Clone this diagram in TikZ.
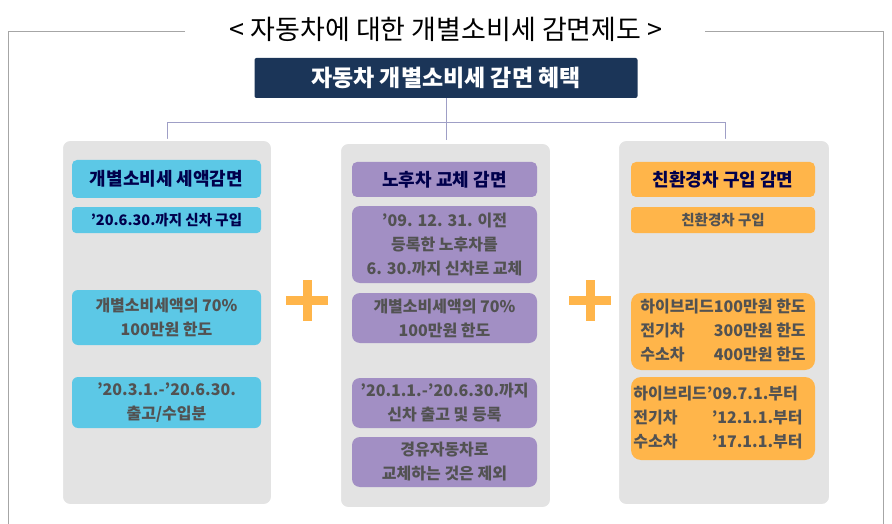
\documentclass[tikz,border=0pt]{standalone}
\usepackage{fontspec}
\setmainfont{Noto Sans CJK KR}[BoldFont={Noto Sans CJK KR Black}]
\begin{document}
\begin{tikzpicture}[x=1pt,y=-1pt,
 panel/.style={draw=white,line width=2pt,fill=gray!22,rounded corners=8pt},
 hd/.style={font=\bfseries\fontsize{18}{20}\selectfont,text=blue!30!black},
 bx/.style={font=\bfseries\fontsize{16}{24}\selectfont,text=black!68,align=center},
 cn/.style={draw=blue!25!gray!60,line width=0.8pt}]
\useasboundingbox (0,0) rectangle (892,524);
\definecolor{cy}{HTML}{5CC8E6}\definecolor{pu}{HTML}{A28FC4}\definecolor{or}{HTML}{FFB54A}
\draw[gray!70,line width=0.6pt] (185,31) -- (8,31) -- (8,524);
\draw[gray!70,line width=0.6pt] (705,31) -- (883,31) -- (883,524);
\node (title) at (446,29) {\fontsize{27}{29}\selectfont < 자동차에 대한 개별소비세 감면제도 >};
\node[fill={rgb,255:red,27;green,53;blue,88},text=white,rounded corners=2pt,minimum width=383pt,minimum height=40pt,font=\bfseries\fontsize{23}{25}\selectfont] (top) at (446,78) {자동차 개별소비세 감면 혜택};
\coordinate (j) at (446,122);
\coordinate (l) at (167,140);\coordinate (m) at (446,140);\coordinate (r) at (725,140);
\draw[cn] (top.south) -- (j);
\draw[cn] (l) -- (167,122) -- (725,122) -- (r);
\draw[cn] (j) -- (m);
\filldraw[panel] (62,140) rectangle (272,505);
\filldraw[panel] (340,143) rectangle (551,508);
\filldraw[panel] (618,140) rectangle (830,505);
% left
\fill[cy,rounded corners=5pt] (72,160) rectangle (261,198);
\node[hd] (lh) at (166.5,179) {개별소비세 세액감면};
\fill[cy,rounded corners=4pt] (72,207) rectangle (261,233);
\node[bx,text=blue!30!black,font=\bfseries\fontsize{14.5}{20}\selectfont] (l1) at (166.5,220) {’20.6.30.까지 신차 구입};
\fill[cy,rounded corners=6pt] (72,290) rectangle (261,345);
\node[bx] (l2) at (166.5,317.5) {개별소비세액의 70\%\\100만원 한도};
\fill[cy,rounded corners=6pt] (72,377) rectangle (261,428);
\node[bx] (l3) at (166.5,402.5) {’20.3.1.-’20.6.30.\\출고/수입분};
% middle
\fill[pu,rounded corners=5pt] (352,162) rectangle (537,197);
\node[hd] (mh) at (444.5,179.5) {노후차 교체 감면};
\fill[pu,rounded corners=8pt] (352,206) rectangle (537,283);
\node[bx] (m1) at (444.5,244.5) {’09. 12. 31. 이전\\등록한 노후차를\\6. 30.까지 신차로 교체};
\fill[pu,rounded corners=8pt] (352,293) rectangle (537,343);
\node[bx] (m2) at (444.5,318) {개별소비세액의 70\%\\100만원 한도};
\fill[pu,rounded corners=8pt] (352,378) rectangle (537,428);
\node[bx] (m3) at (444.5,403) {’20.1.1.-’20.6.30.까지\\신차 출고 및 등록};
\fill[pu,rounded corners=8pt] (352,437) rectangle (537,487);
\node[bx] (m4) at (444.5,462) {경유자동차로\\교체하는 것은 제외};
% right
\fill[or,rounded corners=5pt] (631,162) rectangle (815,197);
\node[hd] (rh) at (723,179.5) {친환경차 구입 감면};
\fill[or,rounded corners=4pt] (631,207) rectangle (815,233);
\node[bx,font=\bfseries\fontsize{14.5}{20}\selectfont] (r1) at (723,220) {친환경차 구입};
\fill[or,rounded corners=10pt] (631,293) rectangle (815,370);
\node[bx,align=left] (r2) at (723,331.5) {\begin{tabular}{@{}l@{}r@{}}하이브리드&100만원 한도\\전기차&300만원 한도\\수소차&400만원 한도\end{tabular}};
\fill[or,rounded corners=10pt] (631,377) rectangle (815,460);
\node[bx,align=left] (r3) at (718,418.5) {\begin{tabular}{@{}l@{}l@{}}하이브리드&’09.7.1.부터\\전기차&\hspace{0.3em}’12.1.1.부터\\수소차&\hspace{0.3em}’17.1.1.부터\end{tabular}};
% plus signs
\fill[or] (286,296) rectangle (328,305);
\fill[or] (302.5,280) rectangle (311.5,321);
\fill[or] (569,296) rectangle (611,305);
\fill[or] (585.5,280) rectangle (594.5,321);
\end{tikzpicture}
\end{document}
